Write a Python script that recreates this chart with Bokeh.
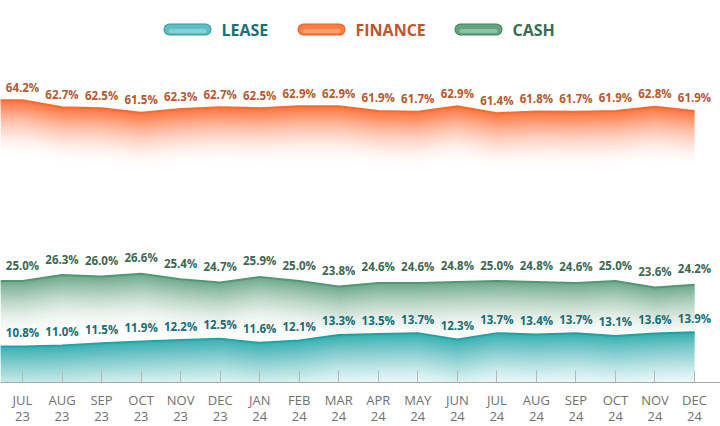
from bokeh.plotting import figure
from bokeh.models import FixedTicker, Range1d, LinearAxis
from bokeh.core.properties import value
from bokeh.embed import file_html
from bokeh.resources import INLINE

months = ["JUL", "AUG", "SEP", "OCT", "NOV", "DEC", "JAN", "FEB", "MAR",
          "APR", "MAY", "JUN", "JUL", "AUG", "SEP", "OCT", "NOV", "DEC"]
years = ["23", "23", "23", "23", "23", "23", "24", "24", "24",
         "24", "24", "24", "24", "24", "24", "24", "24", "24"]
finance = [64.2, 62.7, 62.5, 61.5, 62.3, 62.7, 62.5, 62.9, 62.9,
           61.9, 61.7, 62.9, 61.4, 61.8, 61.7, 61.9, 62.8, 61.9]
cash = [25.0, 26.3, 26.0, 26.6, 25.4, 24.7, 25.9, 25.0, 23.8,
        24.6, 24.6, 24.8, 25.0, 24.8, 24.6, 25.0, 23.6, 24.2]
lease = [10.8, 11.0, 11.5, 11.9, 12.2, 12.5, 11.6, 12.1, 13.3,
         13.5, 13.7, 12.3, 13.7, 13.4, 13.7, 13.1, 13.6, 13.9]

W, H = 720, 382
SPACING = 39.53
X0 = -22 / SPACING
X1 = X0 + W / SPACING
PXU = 4.61
Y1 = 10.8 + 346 / PXU
Y0 = Y1 - H / PXU

def px_x(px):
    return X0 + px / SPACING

def px_y(py):
    return Y1 - py / PXU

idx = list(range(len(months)))

p = figure(frame_width=W, frame_height=H, x_range=Range1d(X0, X1), y_range=Range1d(Y0, Y1),
           output_backend="svg", toolbar_location=None, min_border=0)
p.yaxis.visible = False
p.grid.visible = False
p.outline_line_color = None
p.background_fill_color = "white"
p.border_fill_color = "white"

xa = p.xaxis[0]
xa.ticker = FixedTicker(ticks=idx, minor_ticks=[])
xa.major_label_overrides = {i: m for i, m in enumerate(months)}
xa.major_tick_in = 12
xa.major_tick_out = 0
xa.minor_tick_line_color = None
xa.axis_line_color = "#a8a8a8"
xa.major_tick_line_color = "#b8b8b8"
xa.major_label_text_font = "Open Sans"
xa.major_label_text_font_size = "13px"
xa.major_label_text_color = "#707070"
xa.major_label_standoff = 8

ya = LinearAxis(ticker=FixedTicker(ticks=idx, minor_ticks=[]),
                major_label_overrides={i: y for i, y in enumerate(years)})
ya.axis_line_color = None
ya.major_tick_line_color = None
ya.minor_tick_line_color = None
ya.major_tick_in = 0
ya.major_tick_out = 0
ya.major_label_standoff = 0
ya.major_label_text_font = "Open Sans"
ya.major_label_text_font_size = "13px"
ya.major_label_text_color = "#707070"
p.add_layout(ya, "below")


def grad_area(vals, color, depth_px, alpha0, power, n=32):
    xs = [X0] + idx
    ys = [vals[0]] + list(vals)
    depth = depth_px / PXU
    T = [1 - alpha0 * (1 - (j + 0.5) / n) ** power for j in range(n)] + [1.0]
    for k in range(n, 0, -1):
        a = 1 - T[k - 1] / T[k]
        y2 = [v - depth * k / n for v in ys]
        p.varea(x=xs, y1=ys, y2=y2, fill_color=color, fill_alpha=a)
    p.line(xs, ys, line_color=color, line_width=2)


grad_area(lease, "#1ba6aa", 62, 0.85, 1.5)
grad_area(cash, "#4f9a72", 62, 0.8, 2.0)
grad_area(finance, "#ff6a2b", 60, 0.92, 2.0)

def vlabels(vals, color, off):
    p.text(x=idx, y=vals, text=[f"{v:.1f}%" for v in vals], text_align="center",
           text_baseline="middle", y_offset=-off, text_font=value("Open Sans"),
           text_font_style="bold", text_font_size="11.5px", text_color=color)

vlabels(finance, "#b5582f", 13)
vlabels(cash, "#3d6655", 16)
vlabels(lease, "#176c73", 14)

# legend
leg_y = px_y(29)
items = [("LEASE", "#5cbfc3", "#2f9aa1", "#9ad9db", 163, 221, "#17707a"),
         ("FINANCE", "#ff7d42", "#ee5d22", "#ffac85", 297, 355, "#c0552a"),
         ("CASH", "#64a47f", "#3f8460", "#a3d0b5", 454, 512, "#3a6b55")]
for name, c, dark, light, px0, tx, tc in items:
    p.segment(x0=[px_x(px0 + 6)], y0=[leg_y], x1=[px_x(px0 + 42)], y1=[leg_y],
              line_width=12, line_color=dark, line_cap="round")
    p.segment(x0=[px_x(px0 + 6)], y0=[leg_y], x1=[px_x(px0 + 42)], y1=[leg_y],
              line_width=10, line_color=c, line_cap="round")
    p.segment(x0=[px_x(px0 + 7)], y0=[leg_y - 1.5 / PXU], x1=[px_x(px0 + 41)], y1=[leg_y - 1.5 / PXU],
              line_width=4, line_color=light, line_alpha=0.7, line_cap="round")
    p.text(x=[px_x(tx)], y=[leg_y], text=[name], text_align="left", text_baseline="middle",
           text_font=value("Open Sans"), text_font_style="bold", text_font_size="16px",
           text_color=tc)

open("out.html", "w").write(file_html(p, INLINE))
